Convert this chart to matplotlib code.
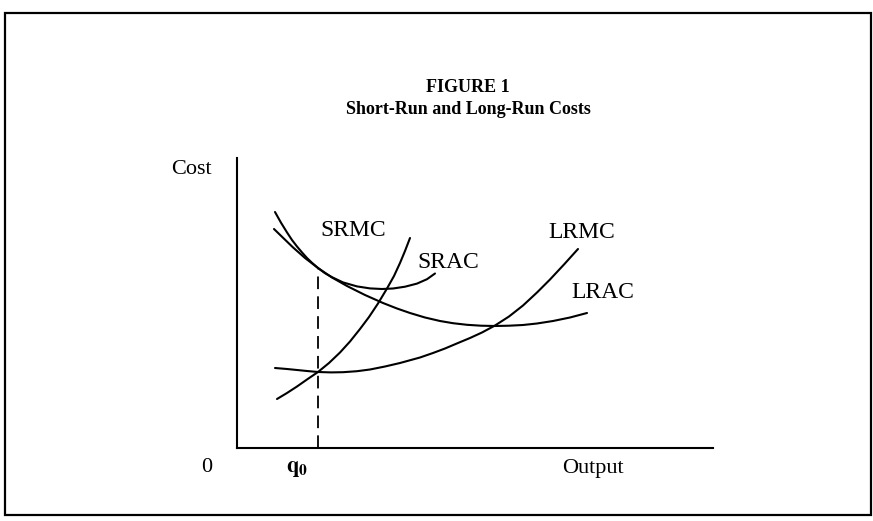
import matplotlib.pyplot as plt
from matplotlib.patches import Rectangle

# curves (output, cost)
srac_x = [38, 44, 50, 55, 60, 65, 70, 75, 81, 88, 95, 106, 120, 133, 145, 156, 168, 180, 190, 198]
srac_y = [236, 225.3, 215.6, 208, 201.5, 195.6, 190, 185.2, 180, 174.8, 170.8, 165.6, 161.6, 159.6, 159, 159.5, 161.3, 164.4, 168.8, 174.5]

lrac_x = [37, 47, 56, 68, 81, 95, 110, 128, 146, 160, 173, 188, 203, 216, 230, 244, 258, 272, 286, 300, 316, 333, 350]
lrac_y = [219, 209.3, 200.6, 190, 180, 170.5, 162, 153, 145, 139.5, 135, 130.5, 127, 124.8, 123.2, 122.3, 122, 122.3, 123,
          124.5, 127, 130.5, 135]

srmc_x = [40, 50, 60, 70, 81, 92, 103, 113, 123, 132, 141, 150, 157, 163, 168, 173]
srmc_y = [49, 55, 61.5, 68.5, 76, 85, 95.5, 106.5, 119, 131, 144.5, 159.5, 172, 185, 197, 210]

lrmc_x = [38, 50, 60, 70, 81, 94, 106, 120, 133, 148, 163, 183, 196, 208, 221, 233, 245, 258, 272, 286, 300, 313, 327, 341]
lrmc_y = [80, 79, 78, 77, 76, 75.6, 75.8, 76.8, 78.5, 81.5, 85, 90.5, 95, 99.5, 105, 110, 115.5, 122.5, 131.5, 142.5,
          155.5, 168.5, 183.5, 199]

q0 = 81
q0_cost = 180

labels = ["SRMC", "SRAC", "LRMC", "LRAC"]
label_x = [116, 211, 345, 366]
label_y = [217, 186, 215, 156]

plt.rcParams['font.family'] = ['Liberation Serif', 'DejaVu Serif']
plt.rcParams['mathtext.fontset'] = 'stix'

fig = plt.figure(figsize=(8.73, 5.21), dpi=100)
fig.patches.append(Rectangle((5 / 873, 1 - 515 / 521), 866 / 873, 502 / 521,
                             transform=fig.transFigure, fill=False, lw=1.6, color='black'))

ax = fig.add_axes([237 / 873, 73 / 521, 476 / 873, 290 / 521])
ax.set_xlim(0, 476)
ax.set_ylim(0, 290)
for s in ['top', 'right']:
    ax.spines[s].set_visible(False)
for s in ['left', 'bottom']:
    ax.spines[s].set_linewidth(1.5)
ax.set_xticks([])
ax.set_yticks([])

kw = dict(color='black', lw=1.5, solid_joinstyle='round', solid_capstyle='round')
ax.plot(srac_x, srac_y, **kw)
ax.plot(lrac_x, lrac_y, **kw)
ax.plot(srmc_x, srmc_y, **kw)
ax.plot(lrmc_x, lrmc_y, **kw)
ax.plot([q0, q0], [0, q0_cost], color='black', lw=1.3, dashes=(7, 4))

for t, x, y in zip(labels, label_x, label_y):
    ax.text(x, y, t, fontsize=17, ha='center', va='center')

fig.text(468 / 873, 1 - 87 / 521, "FIGURE 1", fontsize=13, fontweight='bold', ha='center', va='center')
fig.text(468 / 873, 1 - 109 / 521, "Short-Run and Long-Run Costs", fontsize=13, fontweight='bold',
         ha='center', va='center')
fig.text(191 / 873, 1 - 170 / 521, "Cost", fontsize=16, ha='center', va='center')
fig.text(207 / 873, 1 - 468 / 521, "0", fontsize=16, ha='center', va='center')
fig.text(297 / 873, 1 - 469 / 521, r"$\mathbf{q_0}$", fontsize=16, ha='center', va='center')
fig.text(593 / 873, 1 - 469 / 521, "Output", fontsize=16, ha='center', va='center')

fig.savefig('out.png', dpi=100)
